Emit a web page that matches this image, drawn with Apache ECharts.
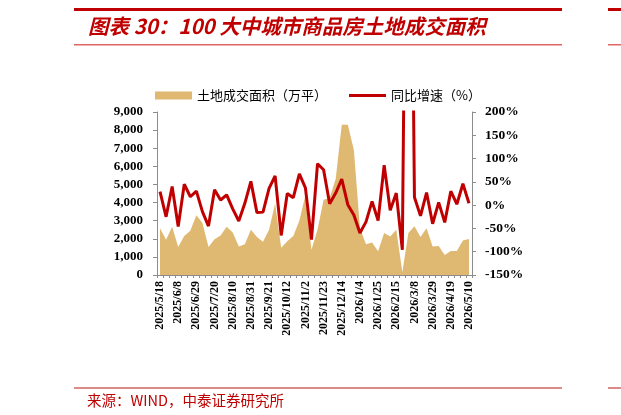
<!DOCTYPE html>
<html>
<head>
<meta charset="utf-8">
<script src="https://cdn.jsdelivr.net/npm/echarts@6/dist/echarts.min.js"></script>
<style>
  html, body { margin: 0; padding: 0; background: #fff; }
  #chart { width: 621px; height: 415px; }
</style>
</head>
<body>
<div id="chart"></div>
<script>
// weekly dates, 2025/5/18 .. 2026/5/10
const dates = [
  '2025/5/18', '2025/5/25', '2025/6/1', '2025/6/8', '2025/6/15', '2025/6/22', '2025/6/29',
  '2025/7/6', '2025/7/13', '2025/7/20', '2025/7/27', '2025/8/3', '2025/8/10', '2025/8/17',
  '2025/8/24', '2025/8/31', '2025/9/7', '2025/9/14', '2025/9/21', '2025/9/28', '2025/10/5',
  '2025/10/12', '2025/10/19', '2025/10/26', '2025/11/2', '2025/11/9', '2025/11/16', '2025/11/23',
  '2025/11/30', '2025/12/7', '2025/12/14', '2025/12/21', '2025/12/28', '2026/1/4', '2026/1/11',
  '2026/1/18', '2026/1/25', '2026/2/1', '2026/2/8', '2026/2/15', '2026/2/22', '2026/3/1',
  '2026/3/8', '2026/3/15', '2026/3/22', '2026/3/29', '2026/4/5', '2026/4/12', '2026/4/19',
  '2026/4/26', '2026/5/3', '2026/5/10'
]

// 土地成交面积（万平）
const landArea = [
  2580, 1950, 2670, 1540, 2150, 2450, 3300, 2870, 1540, 1970, 2180, 2670, 2350,
  1580, 1700, 2500, 2100, 1840, 2500, 3950, 1510, 1860, 2150, 3000, 4400, 1400,
  2500, 4150, 4250, 5300, 8300, 8300, 6900, 2600, 1700, 1800, 1310, 2320, 2130,
  2500, 150, 2320, 2690, 2100, 2580, 1580, 1600, 1100, 1320, 1320, 1900, 1990
]

// 同比增速（%）
const yoyGrowth = [
  29, -25, 40, -46, 45, 18, 30, -14, -45, 33, 11, 22, -8,
  -34, 4, 51, -16, -15, 36, 63, -65, 25, 16, 67, 37, -74,
  89, 76, 3, 26, 56, 1, -21, -60, -36, 8, -33, 86, -11,
  26, -96, 1300, 17, -23, 27, -40, 6, -37, 30, 2, 46, 4
]

const titleText = '图表 30：100 大中城市商品房土地成交面积'
const sourceText = '来源：WIND，中泰证券研究所'

const chart = echarts.init(document.getElementById('chart'))

const axisFont = {
  fontFamily: '"Liberation Serif", "Times New Roman", serif',
  fontWeight: 'bold',
  fontSize: 13,
  color: '#000'
}
const greyLine = { lineStyle: { color: '#8c8c8c', width: 1 } }

const option = {
  animation: false,
  backgroundColor: '#fff',
  textStyle: { fontFamily: '"Noto Sans CJK SC", sans-serif' },
  graphic: [
    // header rules
    { type: 'rect', shape: { x: 74, y: 8, width: 488, height: 3 }, style: { fill: '#c00000' } },
    { type: 'rect', shape: { x: 608, y: 8, width: 13, height: 3 }, style: { fill: '#c00000' } },
    { type: 'rect', shape: { x: 74, y: 44, width: 488, height: 1.5 }, style: { fill: '#e06666' } },
    { type: 'rect', shape: { x: 608, y: 44, width: 13, height: 1.5 }, style: { fill: '#e06666' } },
    {
      type: 'text', left: 88, top: 16,
      style: {
        text: titleText,
        fill: '#c00000',
        font: 'italic bold 20.5px "Noto Sans CJK SC", sans-serif'
      }
    },
    // footer
    { type: 'rect', shape: { x: 74, y: 387, width: 488, height: 2 }, style: { fill: '#dc8a8a' } },
    { type: 'rect', shape: { x: 608, y: 387, width: 13, height: 2 }, style: { fill: '#dc8a8a' } },
    {
      type: 'text', left: 87, top: 393,
      style: {
        text: sourceText,
        fill: '#c00000',
        font: '14.5px "Noto Sans CJK SC", sans-serif'
      }
    }
  ],
  legend: {
    left: 150,
    top: 84,
    itemGap: 22,
    itemWidth: 37,
    itemHeight: 8,
    textStyle: { fontSize: 13, color: '#000', fontFamily: '"Noto Sans CJK SC", sans-serif' },
    data: [
      { name: '土地成交面积（万平）', icon: 'rect' },
      { name: '同比增速（%）', icon: 'path://M0,0H37V3H0Z' }
    ]
  },
  grid: {
    left: 157,
    right: 149,
    top: 112,
    bottom: 140,
    containLabel: false
  },
  xAxis: {
    type: 'category',
    data: dates,
    boundaryGap: true,
    axisLine: greyLine,
    axisTick: { show: true, interval: 0, length: 3, lineStyle: { color: '#8c8c8c' } },
    axisLabel: {
      ...axisFont,
      fontSize: 12,
      rotate: 90,
      interval: 2,
      margin: 6
    }
  },
  yAxis: [
    {
      type: 'value',
      min: 0,
      max: 9000,
      interval: 1000,
      splitLine: { show: false },
      axisLine: { show: true, ...greyLine },
      axisTick: { show: true, length: 4, lineStyle: { color: '#8c8c8c' } },
      axisLabel: {
        ...axisFont,
        margin: 14,
        formatter: v => v.toLocaleString('en-US')
      }
    },
    {
      type: 'value',
      min: -150,
      max: 200,
      interval: 50,
      splitLine: { show: false },
      axisLine: { show: true, ...greyLine },
      axisTick: { show: true, length: 4, lineStyle: { color: '#8c8c8c' } },
      axisLabel: {
        ...axisFont,
        fontSize: 13.5,
        margin: 13,
        formatter: '{value}%'
      }
    }
  ],
  series: [
    {
      name: '土地成交面积（万平）',
      type: 'line',
      yAxisIndex: 0,
      data: landArea,
      symbol: 'none',
      color: '#dfb871',
      lineStyle: { width: 0 },
      areaStyle: { color: '#dfb871', opacity: 1 }
    },
    {
      name: '同比增速（%）',
      type: 'line',
      yAxisIndex: 1,
      data: yoyGrowth,
      symbol: 'none',
      color: '#c00000',
      lineStyle: { width: 3, color: '#c00000' },
      clip: true
    }
  ]
}

chart.setOption(option)
</script>
</body>
</html>
